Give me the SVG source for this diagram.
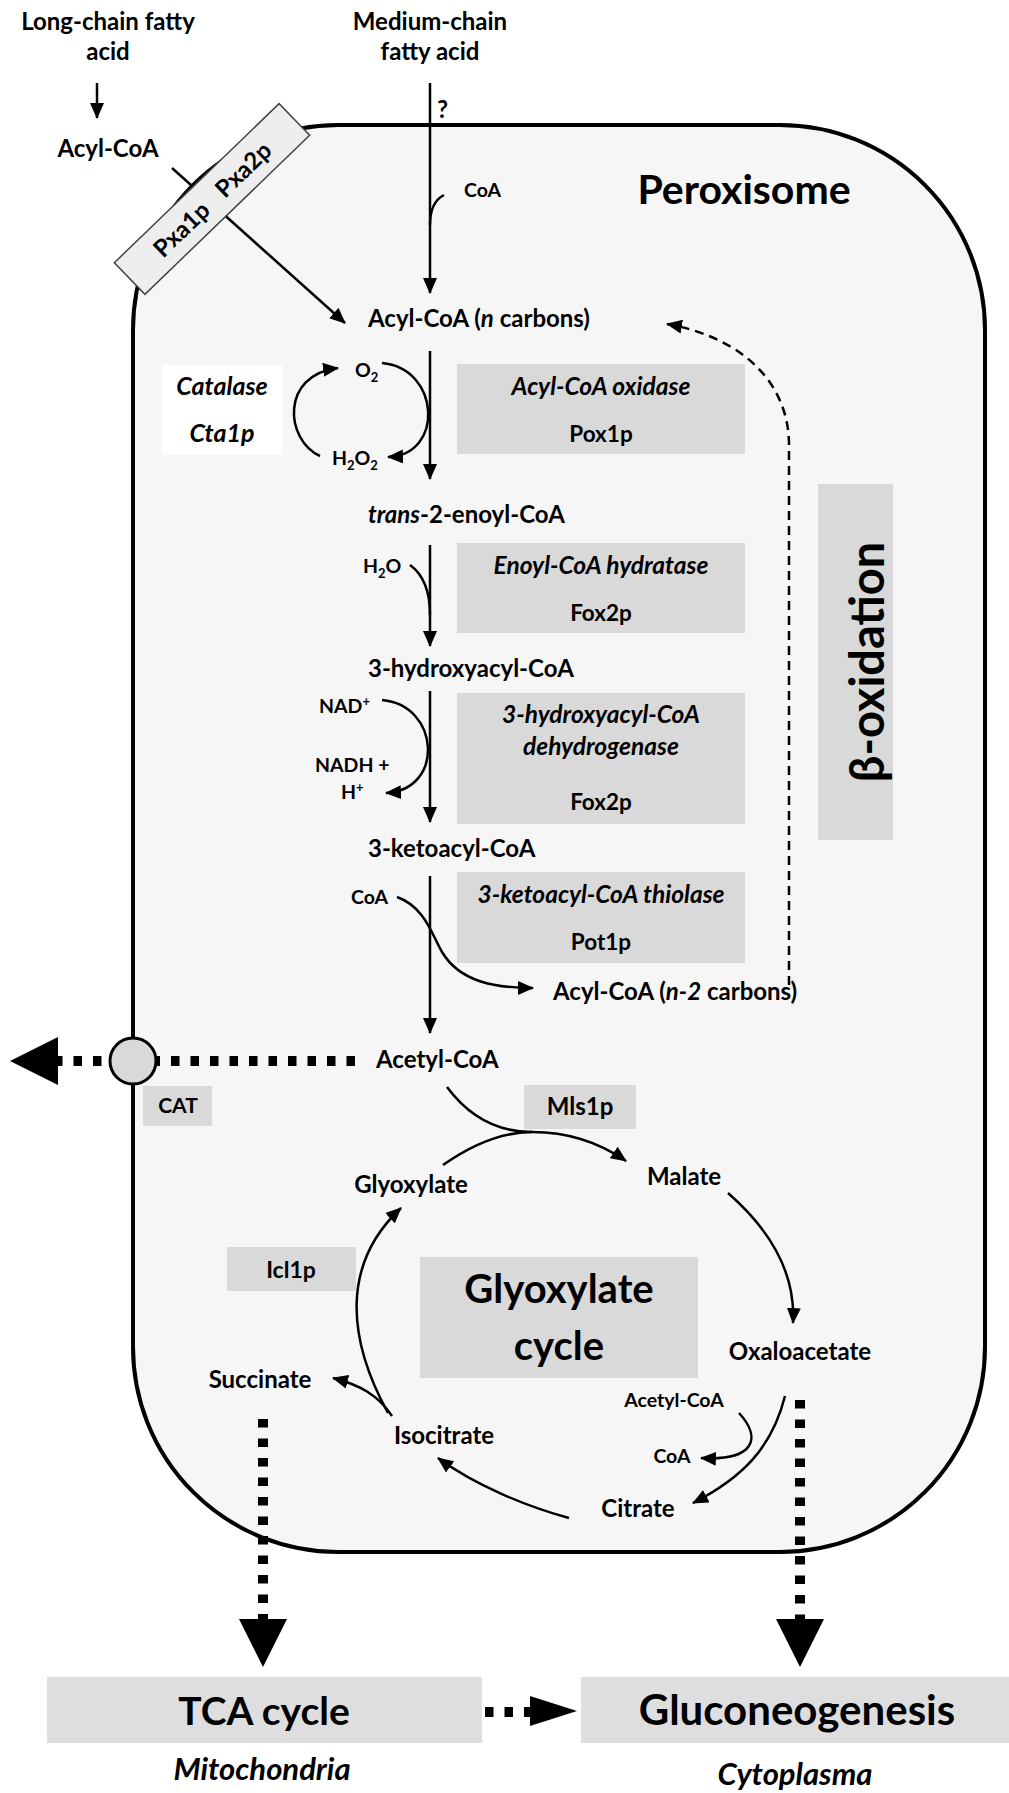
<svg xmlns="http://www.w3.org/2000/svg" width="1009" height="1793" viewBox="0 0 1009 1793">
<style>
.t{font-family:Lato,'Liberation Sans',sans-serif;font-weight:bold;fill:#000;font-size:24px}
.m{text-anchor:middle}
.i{font-style:italic}
.s{font-size:19.5px}
.bi{font-size:24.5px;font-style:italic}
.bu{font-size:22.5px}
.big{font-family:Lato,'Liberation Sans',sans-serif;font-weight:bold;fill:#000;text-anchor:middle}
.box{fill:#d9d9d9}
.lbox{fill:#dedede}
.ln{fill:none;stroke:#000;stroke-width:2.5}
.dot{fill:none;stroke:#000;stroke-width:10;stroke-dasharray:8.5 11}
</style>
<defs>
<marker id="ah" markerWidth="16" markerHeight="14" refX="15" refY="7" orient="auto" markerUnits="userSpaceOnUse"><path d="M0,0 L16,7 L0,14 Z" fill="#000"/></marker>
</defs>
<rect width="1009" height="1793" fill="#fff"/>
<g id="peroxisome">
<rect x="133" y="125" width="852" height="1427" rx="205" ry="205" fill="#f6f6f6" stroke="#000" stroke-width="4"/>
<text class="big" x="744" y="204" style="font-size:41px">Peroxisome</text>
</g>
<g id="connectors">
<path class="ln" d="M97,83 L97,118" marker-end="url(#ah)"/>
<path class="ln" d="M172,168 L345,323" marker-end="url(#ah)"/>
<path class="ln" d="M430,83 L430,293" marker-end="url(#ah)"/>
<path class="ln" d="M444,195 C434,200 430,210 430,225"/>
<path class="ln" d="M430,351 L430,479" marker-end="url(#ah)"/>
<path class="ln" d="M382,363 C440,368 445,455 388,457" marker-end="url(#ah)"/>
<path class="ln" d="M320,456 C285,440 280,375 338,368" marker-end="url(#ah)"/>
<path class="ln" d="M430,545 L430,646" marker-end="url(#ah)"/>
<path class="ln" d="M410,565 C424,575 430,592 430,615"/>
<path class="ln" d="M430,691 L430,822" marker-end="url(#ah)"/>
<path class="ln" d="M382,700 C440,705 445,790 386,793" marker-end="url(#ah)"/>
<path class="ln" d="M430,876 L430,1033" marker-end="url(#ah)"/>
<path class="ln" d="M397,897 C425,907 432,935 442,952 C460,982 495,988 533,988" marker-end="url(#ah)"/>
<path class="ln" d="M789,985 L789,445 C789,385 745,338 667,324" stroke-dasharray="9 6" marker-end="url(#ah)"/>
<path class="dot" d="M355,1061 L56,1061"/>
<polygon points="10,1061 58,1037 58,1085" fill="#000"/>
<path class="ln" d="M447,1087 C470,1118 500,1132 532,1132 C568,1132 600,1143 626,1161" marker-end="url(#ah)"/>
<path class="ln" d="M443,1165 C470,1146 500,1132 532,1132"/>
<path class="ln" d="M728,1193 C768,1228 796,1270 793,1323" marker-end="url(#ah)"/>
<path class="ln" d="M785,1396 C772,1448 742,1478 693,1503" marker-end="url(#ah)"/>
<path class="ln" d="M739,1413 C762,1438 755,1461 701,1458" marker-end="url(#ah)"/>
<path class="ln" d="M569,1518 C525,1506 475,1485 438,1458" marker-end="url(#ah)"/>
<path class="ln" d="M392,1416 C378,1395 360,1385 333,1378" marker-end="url(#ah)"/>
<path class="ln" d="M388,1413 C348,1340 340,1265 401,1208" marker-end="url(#ah)"/>
<path class="dot" d="M263,1419 L263,1621"/>
<polygon points="239,1619 287,1619 263,1667" fill="#000"/>
<path class="dot" d="M800,1400 L800,1621"/>
<polygon points="776,1619 824,1619 800,1667" fill="#000"/>
<path class="dot" d="M485,1712 L533,1712" stroke-dasharray="8 12"/>
<polygon points="530,1696 577,1711 530,1726" fill="#000"/>
</g>
<g id="long-chain">
<text class="t m" x="108" y="30">Long-chain fatty</text>
<text class="t m" x="108" y="60">acid</text>
<text class="t m" x="108" y="157">Acyl-CoA</text>
</g>
<g id="medium-chain">
<text class="t m" x="430" y="30">Medium-chain</text>
<text class="t m" x="430" y="60">fatty acid</text>
<text class="t" x="437" y="118">?</text>
<text class="t s" x="464" y="197">CoA</text>
</g>
<g id="pxa" transform="translate(212,199) rotate(-44)">
<rect x="-114.5" y="-22" width="229" height="44" fill="#eeeeee" stroke="#444" stroke-width="1.5"/>
<text class="t m" x="-43" y="9">Pxa1p</text>
<text class="t m" x="43" y="9">Pxa2p</text>
</g>
<g id="acyl-n">
<text class="t" x="368" y="327">Acyl-CoA (<tspan class="i">n</tspan> carbons)</text>
</g>
<g id="catalase">
<rect x="162" y="365" width="120" height="90" fill="#fff"/>
<text class="t m i" x="222" y="395" style="font-size:25px">Catalase</text>
<text class="t m i" x="222" y="442" style="font-size:25px">Cta1p</text>
<text class="t s" x="355" y="377">O<tspan font-size="13" dy="5">2</tspan></text>
<text class="t s" x="332" y="465">H<tspan font-size="13" dy="5">2</tspan><tspan dy="-5">O</tspan><tspan font-size="13" dy="5">2</tspan></text>
</g>
<g id="pox1">
<rect class="box" x="457" y="364" width="288" height="90"/>
<text class="t m bi" x="601" y="395">Acyl-CoA oxidase</text>
<text class="t m bu" x="601" y="442">Pox1p</text>
</g>
<g id="enoyl">
<text class="t" x="368" y="523"><tspan class="i">trans</tspan>-2-enoyl-CoA</text>
<text class="t s" x="363" y="573">H<tspan font-size="13" dy="5">2</tspan><tspan dy="-5">O</tspan></text>
</g>
<g id="fox2a">
<rect class="box" x="457" y="543" width="288" height="90"/>
<text class="t m bi" x="601" y="574">Enoyl-CoA hydratase</text>
<text class="t m bu" x="601" y="621">Fox2p</text>
</g>
<g id="hydroxy">
<text class="t" x="368" y="677">3-hydroxyacyl-CoA</text>
<text class="t s" x="319" y="713">NAD<tspan font-size="13" dy="-7">+</tspan></text>
<text class="t s" x="315" y="772">NADH +</text>
<text class="t s" x="341" y="799">H<tspan font-size="13" dy="-7">+</tspan></text>
</g>
<g id="fox2b">
<rect class="box" x="457" y="693" width="288" height="131"/>
<text class="t m bi" x="601" y="723">3-hydroxyacyl-CoA</text>
<text class="t m bi" x="601" y="755">dehydrogenase</text>
<text class="t m bu" x="601" y="810">Fox2p</text>
</g>
<g id="keto">
<text class="t" x="368" y="857">3-ketoacyl-CoA</text>
<text class="t s" x="351" y="904">CoA</text>
</g>
<g id="pot1">
<rect class="box" x="457" y="872" width="288" height="91"/>
<text class="t m bi" x="601" y="903">3-ketoacyl-CoA thiolase</text>
<text class="t m bu" x="601" y="950">Pot1p</text>
</g>
<g id="acyl-n2">
<text class="t" x="553" y="1000">Acyl-CoA (<tspan class="i">n-2</tspan> carbons)</text>
</g>
<g id="beta-ox">
<rect class="box" x="818" y="484" width="75" height="356"/>
<text class="big" transform="translate(884,662) rotate(-90)" style="font-size:47px">β-oxidation</text>
</g>
<g id="acetyl">
<text class="t" x="376" y="1068">Acetyl-CoA</text>
</g>
<g id="cat">
<circle cx="133" cy="1061" r="23" fill="#d9d9d9" stroke="#000" stroke-width="3"/>
<rect class="box" x="143" y="1086" width="69" height="40"/>
<text class="t m" x="178" y="1113" style="font-size:21px">CAT</text>
</g>
<g id="mls1">
<rect class="box" x="524" y="1085" width="112" height="44"/>
<text class="t m" x="580" y="1115">Mls1p</text>
</g>
<g id="glyoxylate"><text class="t m" x="411" y="1193">Glyoxylate</text></g>
<g id="malate"><text class="t m" x="684" y="1185">Malate</text></g>
<g id="icl1">
<rect class="box" x="227" y="1247" width="129" height="44"/>
<text class="t m" x="291" y="1278" style="font-size:23px">Icl1p</text>
</g>
<g id="glyox-cycle">
<rect class="box" x="420" y="1257" width="278" height="121"/>
<text class="big" x="559" y="1303" style="font-size:40px">Glyoxylate</text>
<text class="big" x="559" y="1360" style="font-size:40px">cycle</text>
</g>
<g id="oxaloacetate"><text class="t m" x="800" y="1360">Oxaloacetate</text></g>
<g id="succinate"><text class="t m" x="260" y="1388">Succinate</text></g>
<g id="acetyl2"><text class="t m s" x="674" y="1407">Acetyl-CoA</text></g>
<g id="isocitrate"><text class="t m" x="444" y="1444">Isocitrate</text></g>
<g id="coa2"><text class="t m s" x="672" y="1463">CoA</text></g>
<g id="citrate"><text class="t m" x="638" y="1517">Citrate</text></g>
<g id="tca">
<rect class="lbox" x="47" y="1677" width="435" height="66"/>
<text class="big" x="264" y="1725" style="font-size:39px">TCA cycle</text>
<text class="t m i" x="262" y="1780" style="font-size:31px">Mitochondria</text>
</g>
<g id="gluco">
<rect class="lbox" x="581" y="1677" width="428" height="66"/>
<text class="big" x="797" y="1725" style="font-size:42px">Gluconeogenesis</text>
<text class="t m i" x="795" y="1785" style="font-size:31px">Cytoplasma</text>
</g>
</svg>
